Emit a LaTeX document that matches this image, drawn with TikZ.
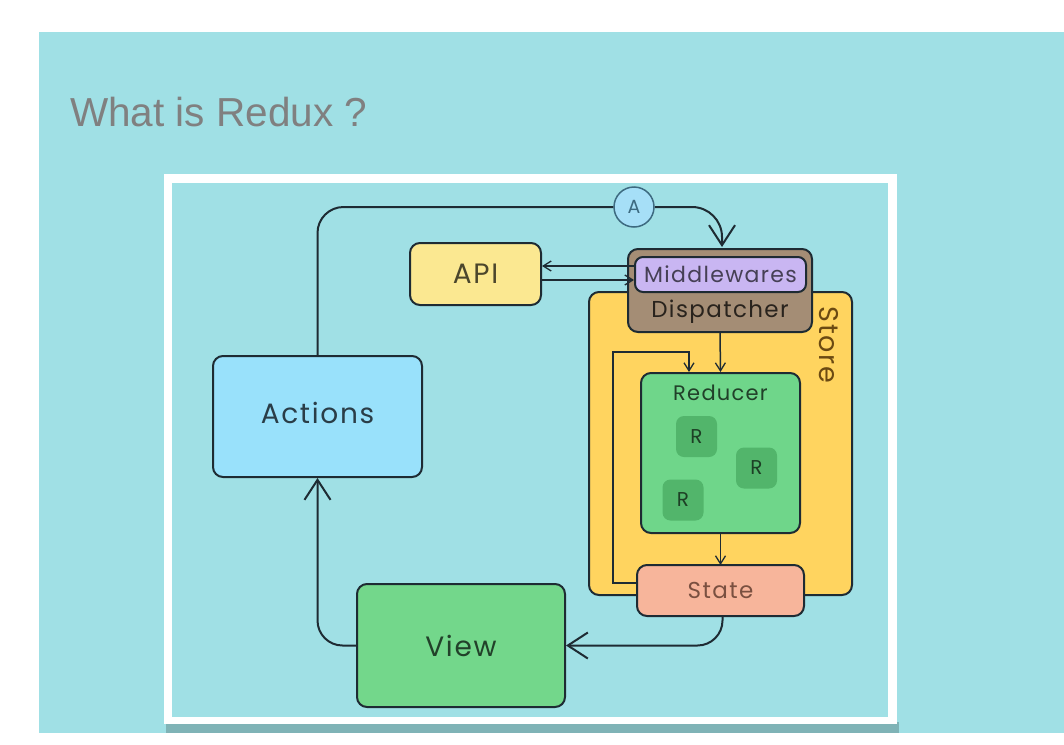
\documentclass[tikz,border=0pt]{standalone}
\usepackage{fontspec}
\setmainfont{Poppins}[LetterSpace=6]
\newfontfamily\titlefont{Liberation Sans}
\usetikzlibrary{arrows.meta}
\definecolor{bgteal}{HTML}{A0E0E5}
\definecolor{shadowc}{HTML}{7FB3B6}
\definecolor{strokec}{HTML}{1E2B33}
\definecolor{actfill}{HTML}{99E1FB}
\definecolor{apifill}{HTML}{FBE891}
\definecolor{dispfill}{HTML}{A48D75}
\definecolor{mwfill}{HTML}{C9B6F2}
\definecolor{storefill}{HTML}{FFD45F}
\definecolor{redfill}{HTML}{6FD68A}
\definecolor{rfill}{HTML}{52B56B}
\definecolor{statefill}{HTML}{F7B59B}
\definecolor{viewfill}{HTML}{73D78B}
\definecolor{afill}{HTML}{A6DFF7}
\definecolor{aline}{HTML}{3D6A80}
\definecolor{titlec}{HTML}{808080}
\definecolor{storetext}{HTML}{6B4A12}
\definecolor{statetext}{HTML}{7A5040}
\begin{document}
\begin{tikzpicture}[x=1pt,y=-1pt,
  box/.style={draw=strokec,line width=2pt,rounded corners=10pt,inner sep=0pt,anchor=center},
  rbox/.style={fill=rfill,rounded corners=8pt,minimum width=41pt,minimum height=41pt,inner sep=0pt,text=black!65!rfill,font=\fontsize{20}{22}\selectfont},
  conn/.style={draw=strokec,line width=2pt},
  bigtip/.style={-{Straight Barb[length=20pt,width=26pt,line width=2pt]}},
  smalltip/.style={-{Straight Barb[length=8pt,width=10pt,line width=1.3pt]}},
  thinconn/.style={draw=strokec,line width=1.5pt}
]
\useasboundingbox (0,0) rectangle (1064,744);
\fill[white] (0,0) rectangle (1064,744);
\fill[bgteal] (39,32) rectangle (1064,733);
\fill[shadowc] (166,722) rectangle (899,733);
\fill[white] (164,174) rectangle (897,724);
\fill[bgteal] (172,183) rectangle (888,717);

\node[anchor=base west,text=titlec,font=\titlefont\fontsize{40.5}{44}\selectfont,inner sep=0pt] (title) at (70,126) {What is Redux ?};

% Store and contents
\node[box,fill=storefill,minimum width=263pt,minimum height=303pt] (store) at (720.5,443.5) {};
\node[rotate=-90,text=storetext,font=\fontsize{27}{30}\selectfont] (storelbl) at (829,345) {Store};
\node[box,fill=dispfill,minimum width=184pt,minimum height=83pt] (disp) at (720,290.5) {};
\node[text=black!75!dispfill,font=\fontsize{23}{26}\selectfont] (displbl) at (720,312) {Dispatcher};
\node[box,fill=mwfill,rounded corners=8pt,minimum width=171pt,minimum height=35pt,text=black!65!mwfill,font=\fontsize{22}{26}\selectfont] (mw) at (720.5,274.5) {Middlewares};
\node[box,fill=redfill,minimum width=159pt,minimum height=160pt] (red) at (720.5,453) {};
\node[text=black!70!redfill,font=\fontsize{21}{24}\selectfont] (redlbl) at (720.5,393) {Reducer};
\node[rbox] (r1) at (696.5,436.5) {R};
\node[rbox] (r2) at (756.5,468) {R};
\node[rbox] (r3) at (683,500) {R};

% loop from state to reducer
\coordinate (loopa) at (613,352);
\coordinate (loopb) at (637,583);
\draw[thinconn,smalltip] (loopb) -| (loopa) -| ([xshift=-31.5pt]red.north);
\draw[thinconn,smalltip] (disp.south) -- (red.north);
\draw[thinconn,smalltip] (red.south) -- (720.5,565);

\node[box,fill=statefill,minimum width=167pt,minimum height=51pt,text=statetext,font=\fontsize{23}{26}\selectfont] (state) at (720.5,590.5) {State};

% other boxes
\node[box,fill=actfill,minimum width=209pt,minimum height=121pt] (actions) at (317.5,416.5) {};
\node[text=strokec!90!actfill,font=\fontsize{28}{30}\selectfont] (actlbl) at (317.5,413) {Actions};
\node[box,fill=apifill,minimum width=131pt,minimum height=62pt,text=black!70!apifill,font=\fontsize{28}{30}\selectfont] (api) at (475.5,274) {API};
\node[box,fill=viewfill,minimum width=208pt,minimum height=123pt,text=black!70!viewfill,font=\fontsize{28}{30}\selectfont] (view) at (461,645.5) {View};
\node[circle,draw=aline,line width=1.5pt,fill=afill,minimum size=40pt,inner sep=0pt,text=aline,font=\fontsize{19}{20}\selectfont] (A) at (634,207) {A};

% connectors
\draw[conn,rounded corners=26pt] (actions.north) |- (A.west);
\draw[conn,bigtip,rounded corners=30pt] (A.east) -| ([xshift=2pt,yshift=1pt]disp.north);
\draw[thinconn,smalltip] ([yshift=8.5pt]mw.west) -- ([yshift=8.5pt]mw.west -| api.east);
\draw[thinconn,smalltip] ([yshift=-5.5pt]mw.west -| api.east) -- ([yshift=-5.5pt]mw.west);
\draw[conn,bigtip,rounded corners=25pt] ([xshift=2pt]state.south) |- (view.east);
\draw[conn,bigtip,rounded corners=25pt] (view.west) -| (actions.south);
\end{tikzpicture}
\end{document}
